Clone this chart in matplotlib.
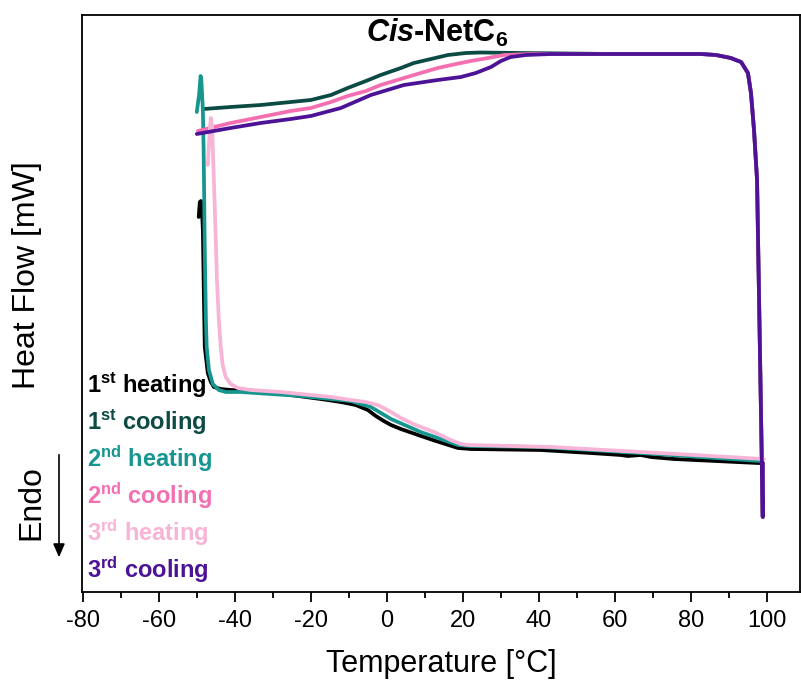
import matplotlib
matplotlib.use("Agg")
import matplotlib.pyplot as plt

# --- fonts ---
plt.rcParams['font.family'] = ['Liberation Sans', 'DejaVu Sans']
plt.rcParams['axes.unicode_minus'] = False
plt.rcParams['mathtext.fontset'] = 'custom'
plt.rcParams['mathtext.rm'] = 'Liberation Sans:bold'
plt.rcParams['mathtext.it'] = 'Liberation Sans:bold:italic'
plt.rcParams['mathtext.bf'] = 'Liberation Sans:bold'

# --- data (temperature in degC, heat flow in mW) ---
# 1st heating
h1_T = [-49.5, -49.2, -48.9, -48.7, -48.4, -48.2, -47.9, -47.1, -46.3, -45.5, -43.7, -41.1,
        -33.2, -25.3, -17.4, -12.1, -8.2, -5.0, -2.9, -0.8, 1.1, 3.7, 8.2, 12.9, 18.7,
        22.1, 40.5, 53.7, 61.6, 63.4, 66.8, 69.5, 75.5, 97.6, 98.9]
h1_HF = [1.83, 1.98, 1.99, 1.95, 1.70, 1.20, 0.53, 0.27, 0.18, 0.13, 0.11, 0.10,
         0.09, 0.05, 0.01, -0.02, -0.05, -0.10, -0.16, -0.21, -0.25, -0.29, -0.35, -0.41, -0.48,
         -0.49, -0.50, -0.53, -0.55, -0.56, -0.55, -0.57, -0.59, -0.63, -0.63]

# 1st cooling
c1_T = [98.9, 98.9, 97.4, 96.6, 95.8, 95.0, 93.2, 91.8, 90.5, 86.6, 82.6, 60.0, 35.3,
        24.7, 20.8, 16.1, 11.6, 7.1, 3.7, -1.6, -5.5, -10.3, -14.7, -20.0, -25.3, -33.2,
        -41.1, -48.2]
c1_HF = [-0.63, -1.17, 2.20, 2.70, 3.07, 3.27, 3.38, 3.40, 3.42, 3.45, 3.46, 3.46, 3.47,
         3.475, 3.47, 3.45, 3.41, 3.37, 3.32, 3.25, 3.19, 3.12, 3.05, 3.00, 2.98, 2.95,
         2.93, 2.91]

# 2nd heating
h2_T = [-50.0, -49.4, -49.0, -48.8, -48.4, -48.2, -47.9, -47.6, -47.4, -46.8, -45.8, -44.2,
        -42.4, -38.4, -22.6, -9.5, -4.2, 1.1, 8.9, 18.7, 22.1, 40.5, 66.8, 98.4]
h2_HF = [2.88, 3.05, 3.24, 3.20, 2.90, 2.50, 1.50, 0.80, 0.53, 0.30, 0.16, 0.10,
         0.08, 0.08, 0.04, -0.01, -0.07, -0.19, -0.32, -0.45, -0.46, -0.47, -0.53, -0.61]

# 2nd cooling
c2_T = [98.9, 98.9, 97.4, 96.6, 95.8, 95.0, 93.2, 91.8, 90.5, 86.6, 82.6, 60.0, 37.9,
        30.8, 26.6, 22.1, 18.2, 13.4, 8.9, 4.5, -1.6, -5.5, -10.3, -14.7, -20.0, -25.3,
        -33.2, -41.1, -49.7]
c2_HF = [-0.63, -1.17, 2.20, 2.70, 3.07, 3.27, 3.38, 3.40, 3.42, 3.45, 3.46, 3.46, 3.46,
         3.45, 3.42, 3.39, 3.36, 3.32, 3.27, 3.22, 3.15, 3.09, 3.04, 2.98, 2.92, 2.89,
         2.83, 2.77, 2.69]

# 3rd heating
h3_T = [-47.1, -46.6, -46.3, -46.0, -45.5, -45.0, -44.7, -44.2, -43.7, -43.2, -42.4, -41.1,
        -39.2, -35.8, -27.9, -22.6, -14.7, -9.5, -5.5, -2.4, -0.3, 1.1, 3.7, 7.6, 12.4,
        16.8, 19.5, 21.3, 43.2, 66.8, 99.2]
h3_HF = [2.35, 2.70, 2.82, 2.75, 2.20, 1.60, 1.20, 0.80, 0.53, 0.35, 0.23, 0.16,
         0.12, 0.10, 0.08, 0.06, 0.03, 0.00, -0.02, -0.05, -0.09, -0.12, -0.18, -0.25, -0.32,
         -0.40, -0.44, -0.45, -0.47, -0.52, -0.59]

# 3rd cooling
c3_T = [98.9, 98.9, 97.4, 96.6, 95.8, 95.0, 93.2, 91.8, 90.5, 86.6, 82.6, 60.0, 43.2,
        36.6, 32.6, 30.0, 27.4, 23.4, 19.5, 13.4, 4.5, -4.2, -12.1, -20.0, -25.3, -33.2,
        -41.1, -50.0]
c3_HF = [-0.63, -1.17, 2.20, 2.70, 3.07, 3.27, 3.38, 3.40, 3.42, 3.45, 3.46, 3.46, 3.46,
         3.45, 3.43, 3.39, 3.33, 3.27, 3.23, 3.20, 3.15, 3.05, 2.92, 2.84, 2.81, 2.77,
         2.72, 2.66]

labels = [r"1$^{\mathrm{st}}$ heating", r"1$^{\mathrm{st}}$ cooling",
          r"2$^{\mathrm{nd}}$ heating", r"2$^{\mathrm{nd}}$ cooling",
          r"3$^{\mathrm{rd}}$ heating", r"3$^{\mathrm{rd}}$ cooling"]
colors = ["#000000", "#0b4b43", "#179690", "#f46fb1", "#f8b4d6", "#4c1397"]

# --- plot ---
W, H = 801, 686
fig = plt.figure(figsize=(W / 100, H / 100), dpi=100)
ax = fig.add_axes([82 / W, 1 - 592 / H, (800 - 82) / W, (592 - 15) / H])

series = [(h1_T, h1_HF), (c1_T, c1_HF), (h2_T, h2_HF),
          (c2_T, c2_HF), (h3_T, h3_HF), (c3_T, c3_HF)]
for (t, hf), col, lab in zip(series, colors, labels):
    ax.plot(t, hf, color=col, lw=2.7, label=lab,
            solid_capstyle='round', solid_joinstyle='round')

ax.set_xlim(-80.2, 108.7)
ax.set_ylim(-1.92, 3.85)
ax.set_yticks([])
ax.set_xticks(range(-80, 101, 20))
ax.set_xticks(range(-70, 101, 20), minor=True)
ax.tick_params(axis='x', which='major', length=7, width=1.3, labelsize=17, pad=6)
ax.tick_params(axis='x', which='minor', length=4, width=1.3)
for s in ax.spines.values():
    s.set_linewidth(1.3)

ax.set_xlabel("Temperature [°C]", fontsize=22, labelpad=12)

# title inside plot
ax.text((437 - 82) / 718, 1 - (33 - 15) / 577, r"$\mathit{Cis}$-NetC$_{\mathrm{6}}$",
        transform=ax.transAxes, ha='center', va='center', fontsize=22, fontweight='bold')

# label list in the lower left corner, coloured like the curves
for i, (lab, col) in enumerate(zip(labels, colors)):
    fig.text(87 / W, 1 - (385 + 37 * i) / H, lab, color=col, fontsize=17,
             fontweight='bold', ha='left', va='center')

# y label and Endo arrow
fig.text(27 / W, 1 - 275 / H, "Heat Flow [mW]", rotation=90, fontsize=23,
         ha='center', va='center')
fig.text(31 / W, 1 - 503 / H, "Endo", rotation=90, fontsize=23, ha='center', va='center')
ax.annotate("", xy=(59 / W, 1 - 560 / H), xytext=(59 / W, 1 - 452 / H),
            xycoords='figure fraction', textcoords='figure fraction',
            arrowprops=dict(arrowstyle='-|>,head_length=0.8,head_width=0.35',
                            color='black', lw=1.2))

fig.savefig("out.png", dpi=100)
